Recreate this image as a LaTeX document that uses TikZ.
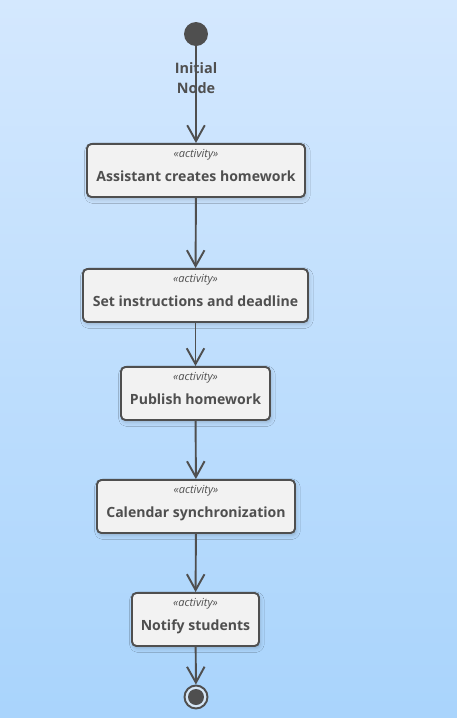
\documentclass[tikz,border=0pt]{standalone}
\usepackage{fontspec}
\setmainfont{Open Sans}
\usetikzlibrary{arrows.meta, shadows.blur}
\definecolor{umlline}{HTML}{4F4F4F}
\definecolor{umlfill}{HTML}{F2F2F2}
\definecolor{bgtop}{HTML}{D4E8FE}
\definecolor{bgbottom}{HTML}{A9D4FC}
\tikzset{
    activity/.style={draw=umlline, fill=umlfill, line width=1.1pt, rounded corners=2.5pt,
        align=center, minimum height=1.06cm, inner sep=0pt, text=umlline,
        blur shadow={shadow xshift=0.8pt, shadow yshift=-1.5pt, shadow opacity=18}}, % activity box
    flow/.style={draw=umlline, line width=1.1pt,
        -{Straight Barb[length=9pt, width=10pt]}}, % control flow
    startnode/.style={circle, fill=umlline, minimum size=0.48cm, inner sep=0pt},
    endnode/.style={circle, draw=umlline, line width=1.1pt, fill=umlfill!60!bgbottom,
        minimum size=0.46cm, inner sep=0pt},
}
\newcommand{\stereo}{{\fontsize{6.3}{7}\selectfont\itshape «activity»}}
\newcommand{\actname}[1]{\\[1.5pt]{\fontsize{8}{10}\selectfont\bfseries #1}\rule[-5.5pt]{0pt}{5.5pt}}

\begin{document}
\begin{tikzpicture}[x=0.02cm, y=-0.02cm]
    % background
    \shade[top color=bgtop, bottom color=bgbottom] (0,0) rectangle (457,718);
    \useasboundingbox (0,0) rectangle (457,718);

    % nodes
    \node[startnode] (start) at (196,34) {};
    \node[text=umlline, align=center, font=\fontsize{8.2}{11}\selectfont\bfseries] (startlbl) at (196,78) {Initial\\Node};
    \node[activity, minimum width=4.36cm] (create) at (196,170.5) {\stereo\actname{Assistant creates homework}};
    \node[activity, minimum width=4.5cm] (setup) at (195.5,295.5) {\stereo\actname{Set instructions and deadline}};
    \node[activity, minimum width=2.98cm] (publish) at (195.5,393.5) {\stereo\actname{Publish homework}};
    \node[activity, minimum width=3.96cm] (sync) at (196,506.5) {\stereo\actname{Calendar synchronization}};
    \node[activity, minimum width=2.54cm] (notify) at (195.5,619.5) {\stereo\actname{Notify students}};
    \node[endnode] (final) at (196,697) {};
    \fill[umlline] (final) circle (0.16cm);

    % flows
    \draw[flow] (start) -- (create);
    \draw[flow] (create) -- (setup);
    \draw[flow] (setup) -- (publish);
    \draw[flow] (publish) -- (sync);
    \draw[flow] (sync) -- (notify);
    \draw[flow] (notify) -- (final);
\end{tikzpicture}
\end{document}
